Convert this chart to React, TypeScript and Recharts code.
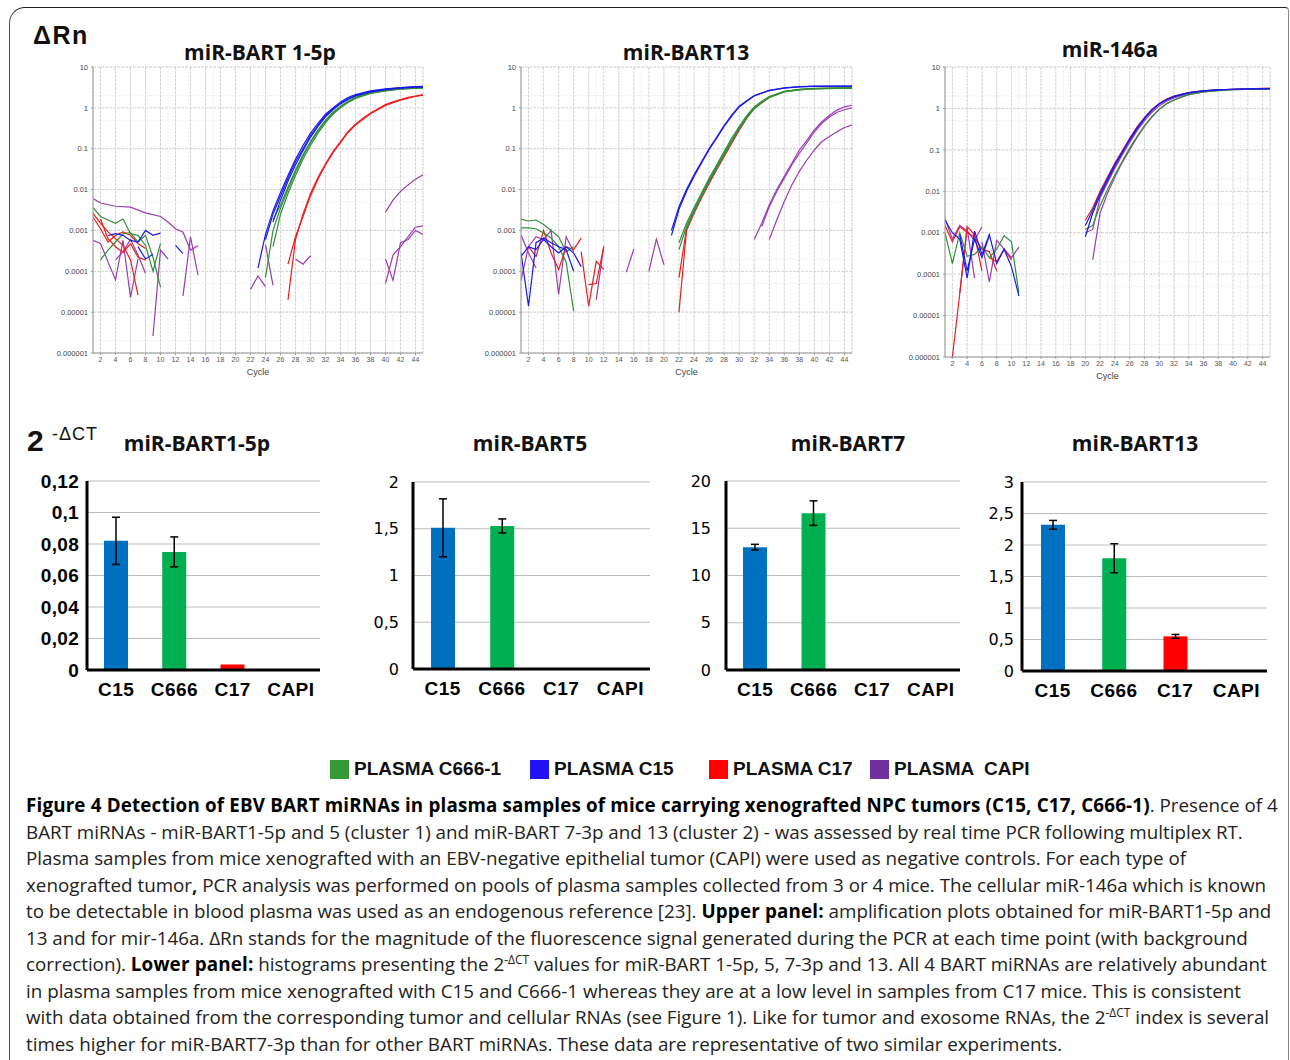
import React from "react";
import { LineChart, Line, XAxis, YAxis, CartesianGrid, BarChart, Bar, Cell, ErrorBar } from "recharts";

type Pt = [number, number];

// ---------------- Amplification plots (cycle, ΔRn) ----------------
const ampXTicks = [2, 4, 6, 8, 10, 12, 14, 16, 18, 20, 22, 24, 26, 28, 30, 32, 34, 36, 38, 40, 42, 44];
const ampYTicks = [0.000001, 0.00001, 0.0001, 0.001, 0.01, 0.1, 1, 10];
const ampYTickLabels = ["0.000001", "0.00001", "0.0001", "0.001", "0.01", "0.1", "1", "10"];

// miR-BART 1-5p
const p1Blue: Pt[][] = [
  [[23, 1.2e-4], [24, 8e-4], [25, 3e-3], [26, 8.5e-3], [27, 2.2e-2], [28, 5.5e-2], [29, 0.12], [30, 0.24], [31, 0.42], [32, 0.7], [33, 1.0], [34, 1.4], [35, 1.8], [36, 2.1], [38, 2.6], [40, 2.9], [42, 3.15], [44, 3.3], [45, 3.35]],
  [[24, 6e-4], [25, 2.5e-3], [26, 7e-3], [27, 1.9e-2], [28, 4.8e-2], [29, 0.1], [30, 0.21], [31, 0.38], [32, 0.64], [33, 0.95], [34, 1.3], [35, 1.7], [36, 2.0], [38, 2.5], [40, 2.85], [42, 3.1], [44, 3.25], [45, 3.3]],
  [[25, 1.6e-3], [26, 5.5e-3], [27, 1.6e-2], [28, 4e-2], [29, 0.09], [30, 0.19], [31, 0.35], [32, 0.6], [33, 0.9], [34, 1.25], [35, 1.6], [36, 1.95], [38, 2.45], [40, 2.8], [42, 3.05], [44, 3.2], [45, 3.25]],
  [[3, 7.5e-4], [4, 8.3e-4], [5, 7.6e-4], [6, 5.7e-4], [7, 5.2e-4], [8, 1e-3], [9, 7.6e-4], [10, 8.6e-4]],
  [[7, 4e-4], [8, 2e-4], [9, 2.6e-4]],
  [[12, 4.3e-4], [13, 2.7e-4]],
];
const p1Green: Pt[][] = [
  [[24, 7e-5], [25, 1e-3], [26, 3.5e-3], [27, 1e-2], [28, 2.7e-2], [29, 6.5e-2], [30, 0.14], [31, 0.27], [32, 0.47], [33, 0.75], [34, 1.05], [35, 1.4], [36, 1.75], [38, 2.3], [40, 2.65], [42, 2.9], [44, 3.05], [45, 3.1]],
  [[25, 4e-4], [26, 2.5e-3], [27, 8e-3], [28, 2.2e-2], [29, 5.5e-2], [30, 0.12], [31, 0.24], [32, 0.43], [33, 0.7], [34, 1.0], [35, 1.35], [36, 1.7], [38, 2.25], [40, 2.6], [42, 2.85], [44, 3.0], [45, 3.05]],
  [[25, 1.8e-3], [26, 4.2e-3], [27, 1.15e-2], [28, 3e-2], [29, 7.2e-2], [30, 0.15], [31, 0.29], [32, 0.5], [33, 0.78], [34, 1.1], [35, 1.45], [36, 1.8], [38, 2.35], [40, 2.7], [42, 2.95], [44, 3.1], [45, 3.15]],
  [[1, 3.6e-3], [2, 2.2e-3], [3, 1.8e-3], [4, 1.5e-3], [5, 1.9e-3], [6, 8.3e-4], [7, 7.6e-4], [8, 4.3e-4], [9, 1e-4], [10, 4.8e-4]],
  [[2, 1.9e-4], [3, 3.3e-4], [4, 5.2e-4], [5, 8.3e-4], [6, 8.8e-4], [7, 5.2e-4], [8, 7.6e-4], [9, 2.2e-4], [10, 4.1e-5]],
];
const p1Red: Pt[][] = [
  [[27, 2e-5], [28, 6e-4], [29, 2.5e-3], [30, 8e-3], [31, 2e-2], [32, 4.3e-2], [33, 8.5e-2], [34, 0.15], [35, 0.26], [36, 0.4], [37, 0.56], [38, 0.75], [39, 0.95], [40, 1.2], [41, 1.4], [42, 1.6], [43, 1.8], [44, 1.95], [45, 2.1]],
  [[27, 1.5e-4], [28, 7e-4], [29, 2.2e-3], [30, 7e-3], [31, 1.8e-2], [32, 4e-2], [33, 8e-2], [34, 0.14], [35, 0.25], [36, 0.38], [38, 0.72], [40, 1.15], [42, 1.55], [44, 1.9], [45, 2.05]],
  [[1, 2.6e-3], [2, 1.5e-3], [3, 9.2e-4], [4, 6.3e-4], [5, 4.3e-4], [6, 1.9e-4], [7, 2.6e-5]],
  [[1, 2.1e-3], [2, 1.1e-3], [3, 5.2e-4], [4, 7.5e-4], [5, 9.2e-4], [6, 7.6e-4], [7, 4.8e-4], [8, 3.6e-4]],
  [[2, 1.9e-3], [3, 6.3e-4], [4, 4e-4], [5, 2.9e-4], [6, 4.7e-4], [7, 2.2e-4], [8, 1.9e-4]],
];
const p1Purple: Pt[][] = [
  [[1, 6e-3], [2, 4.7e-3], [4, 3.9e-3], [6, 3.7e-3], [8, 2.7e-3], [10, 2.2e-3], [11, 1.6e-3], [12, 1.1e-3], [13, 9e-4], [14, 3.3e-4], [15, 4.2e-4]],
  [[1, 5.7e-4], [2, 4.8e-4], [3, 1.7e-4], [4, 6.2e-5], [5, 5.7e-4], [6, 2.3e-5], [7, 2e-4]],
  [[4, 1.9e-4], [5, 3e-4], [6, 6e-4], [7, 2.5e-4], [8, 9e-5]],
  [[9, 2.6e-6], [10, 3.3e-4], [11, 2e-4]],
  [[13, 2.5e-5], [14, 7e-4], [15, 8e-5]],
  [[22, 3.6e-5], [23, 7.7e-5], [24, 4.2e-5]],
  [[24, 4.5e-4], [25, 4.5e-5]],
  [[28, 2e-4], [29, 1.5e-4], [30, 2.4e-4]],
  [[40, 2.8e-3], [41, 5.5e-3], [42, 9e-3], [43, 1.3e-2], [44, 1.8e-2], [45, 2.3e-2]],
  [[40, 5e-5], [41, 2.5e-4], [42, 4e-4], [43, 7e-4], [44, 1.2e-3], [45, 1.3e-3]],
  [[40, 2e-4], [41, 6e-5], [42, 5e-4], [43, 6e-4], [44, 1e-3], [45, 8e-4]],
];

// miR-BART13
const p2Blue: Pt[][] = [
  [[21, 1e-3], [22, 3.8e-3], [23, 1e-2], [24, 2.3e-2], [25, 4.8e-2], [26, 0.1], [27, 0.19], [28, 0.37], [29, 0.66], [30, 1.1], [31, 1.5], [32, 2.0], [34, 2.7], [36, 3.1], [38, 3.3], [40, 3.4], [45, 3.4]],
  [[21, 7.5e-4], [22, 3.3e-3], [23, 9e-3], [24, 2.1e-2], [25, 4.5e-2], [26, 0.095], [27, 0.18], [28, 0.35], [29, 0.63], [30, 1.05], [31, 1.45], [32, 1.95], [34, 2.65], [36, 3.05], [38, 3.25], [40, 3.35], [45, 3.4]],
  [[1, 2.8e-4], [2, 1.4e-5], [3, 5e-4], [4, 6.5e-4], [5, 5e-4], [6, 4e-4], [7, 3.4e-4], [8, 1e-4]],
  [[1, 2.3e-4], [2, 4e-4], [3, 3.4e-4], [4, 6e-4], [5, 4e-4], [6, 2.8e-4], [7, 4e-4], [8, 2.8e-4], [9, 1.3e-4]],
];
const p2Green: Pt[][] = [
  [[22, 3.4e-4], [23, 1.25e-3], [24, 3.2e-3], [25, 7.4e-3], [26, 1.7e-2], [27, 3.6e-2], [28, 7.7e-2], [29, 0.16], [30, 0.32], [31, 0.6], [32, 1.0], [33, 1.4], [34, 1.85], [36, 2.5], [38, 2.8], [40, 2.95], [45, 3.1]],
  [[22, 5e-4], [23, 1.5e-3], [24, 3.6e-3], [25, 8.2e-3], [26, 1.9e-2], [27, 4e-2], [28, 8.5e-2], [29, 0.18], [30, 0.35], [31, 0.65], [32, 1.05], [33, 1.45], [34, 1.9], [36, 2.55], [38, 2.85], [40, 3.0], [45, 3.1]],
  [[23, 1.1e-3], [24, 2.9e-3], [25, 6.8e-3], [26, 1.55e-2], [27, 3.3e-2], [28, 7e-2], [29, 0.15], [30, 0.3], [31, 0.57], [32, 0.95], [33, 1.35], [34, 1.8], [36, 2.45], [38, 2.75], [40, 2.9], [45, 3.05]],
  [[1, 1.9e-3], [2, 1.7e-3], [3, 1.8e-3], [4, 1.4e-3], [5, 1e-3], [6, 7e-4], [7, 3e-4], [8, 4e-4]],
  [[1, 1.15e-3], [2, 1.15e-3], [3, 1.1e-3], [4, 8.6e-4], [5, 6.5e-4], [6, 4e-4], [7, 1.7e-4], [8, 1.05e-5]],
];
const p2Red: Pt[][] = [
  [[22, 1e-5], [23, 1e-3], [24, 2.6e-3], [25, 6.2e-3], [26, 1.4e-2], [27, 3e-2], [28, 6.4e-2], [29, 0.135], [30, 0.28], [31, 0.55], [32, 0.97], [34, 1.8], [36, 2.5], [38, 2.8], [40, 2.95], [45, 3.1]],
  [[22, 7e-5], [23, 1.1e-3]],
  [[2, 4e-4], [3, 2.3e-4], [4, 1e-3], [5, 2.8e-4], [6, 1.1e-4], [7, 4e-4], [8, 3.4e-4], [9, 6.5e-4]],
  [[9, 3e-4], [10, 1.4e-5], [11, 1.75e-4], [12, 1.1e-4]],
  [[10, 4.7e-5], [11, 5e-5], [12, 4e-4]],
];
const p2Purple: Pt[][] = [
  [[32, 6e-4], [33, 1.5e-3], [34, 4.2e-3], [35, 1e-2], [36, 2.1e-2], [37, 4.4e-2], [38, 9.3e-2], [39, 0.16], [40, 0.29], [41, 0.46], [42, 0.66], [43, 0.88], [44, 1.06], [45, 1.16]],
  [[33, 1.25e-3], [34, 3.8e-3], [35, 9e-3], [36, 1.9e-2], [37, 4e-2], [38, 7.7e-2], [39, 0.14], [40, 0.26], [41, 0.42], [42, 0.6], [43, 0.78], [44, 0.9], [45, 1.0]],
  [[34, 6e-4], [35, 1.8e-3], [36, 5.1e-3], [37, 1.3e-2], [38, 2.8e-2], [39, 5.3e-2], [40, 9.3e-2], [41, 0.15], [42, 0.2], [43, 0.26], [44, 0.33], [45, 0.38]],
  [[1, 7.8e-4], [2, 2.8e-4], [3, 1.2e-4]],
  [[1, 6e-5], [2, 4e-4], [3, 7e-4], [4, 6e-4], [5, 1e-3], [6, 2.7e-5], [7, 7e-4], [8, 3e-4]],
  [[11, 2e-5], [12, 4e-4]],
  [[15, 9.5e-5], [16, 3.5e-4]],
  [[18, 1e-4], [19, 6.1e-4], [20, 1.45e-4]],
];

// miR-146a
const p3Blue: Pt[][] = [
  [[20, 1.5e-3], [21, 3.5e-3], [22, 9e-3], [23, 2e-2], [24, 4.5e-2], [25, 9e-2], [26, 0.18], [27, 0.34], [28, 0.58], [29, 0.92], [30, 1.3], [31, 1.65], [32, 1.95], [33, 2.2], [34, 2.4], [36, 2.65], [38, 2.8], [40, 2.9], [42, 2.95], [45, 3.0]],
  [[20, 8e-4], [21, 3e-3], [22, 8e-3], [23, 1.8e-2], [24, 4.1e-2], [25, 8.4e-2], [26, 0.17], [27, 0.32], [28, 0.56], [29, 0.9], [30, 1.28], [31, 1.62], [32, 1.92], [34, 2.38], [36, 2.64], [38, 2.8], [40, 2.9], [45, 3.0]],
  [[1, 2e-3], [2, 1e-3], [3, 7e-4], [4, 8e-5], [5, 1.1e-3], [6, 3e-4], [7, 9e-4], [8, 1.8e-4], [9, 4e-4], [10, 1.5e-4], [11, 3e-5]],
  [[3, 9e-4], [4, 1.2e-4], [5, 7e-4], [6, 2.5e-4], [7, 8.5e-4]],
];
const p3Green: Pt[][] = [
  [[20, 1.2e-3], [21, 1.5e-3], [22, 4.5e-3], [23, 1.1e-2], [24, 2.5e-2], [25, 5.3e-2], [26, 0.11], [27, 0.21], [28, 0.38], [29, 0.63], [30, 0.95], [31, 1.3], [32, 1.6], [33, 1.9], [34, 2.15], [36, 2.5], [38, 2.7], [40, 2.85], [45, 2.95]],
  [[1, 1e-3], [2, 1.8e-4], [3, 1e-3], [4, 2.7e-4], [5, 3e-4], [6, 4.6e-4], [7, 2.5e-4], [8, 4e-4], [9, 8.5e-4], [10, 6e-4], [11, 3.5e-5]],
];
const p3Red: Pt[][] = [
  [[20, 2e-3], [21, 4e-3], [22, 1e-2], [23, 2.2e-2], [24, 4.8e-2], [25, 9.5e-2], [26, 0.19], [27, 0.36], [28, 0.6], [29, 0.95], [30, 1.32], [31, 1.68], [32, 1.98], [34, 2.4], [36, 2.7], [38, 2.82], [40, 2.9], [45, 3.1]],
  [[2, 1e-6], [3, 3.4e-5], [4, 1.4e-3], [5, 9e-4], [6, 1.2e-4]],
  [[1, 1.5e-3], [2, 6e-4], [3, 1.4e-3], [4, 1e-3], [5, 8e-4], [6, 4e-4], [7, 3.5e-4], [8, 1.2e-4]],
  [[7, 2.5e-4], [8, 2e-4], [9, 4e-4], [10, 2.2e-4]],
];
const p3Purple: Pt[][] = [
  [[21, 2.2e-4], [22, 3e-3], [23, 9e-3], [24, 2.2e-2], [25, 5e-2], [26, 0.1], [27, 0.2], [28, 0.37], [29, 0.62], [30, 0.95], [31, 1.3], [32, 1.6], [34, 2.15], [36, 2.5], [38, 2.72], [40, 2.85], [45, 2.95]],
  [[20, 1e-3], [21, 1.2e-3], [22, 7e-3], [23, 1.6e-2], [24, 3.6e-2], [25, 7.5e-2], [26, 0.15], [27, 0.29], [28, 0.5], [29, 0.8], [30, 1.15], [31, 1.5], [32, 1.8], [34, 2.3], [36, 2.6], [38, 2.78], [40, 2.88], [45, 3.0]],
  [[1, 2.2e-3], [2, 7e-4], [3, 1.5e-3], [4, 1.1e-3], [5, 6.5e-4], [6, 1.4e-3]],
  [[3, 3.5e-5], [4, 1.3e-3], [5, 8e-5]],
  [[6, 6e-4], [7, 6.5e-5], [8, 6.5e-4], [9, 4e-4], [10, 2.5e-4], [11, 4.5e-4]],
];

// ---------------- 2^-ΔCT bar charts ----------------
const categories = ["C15", "C666", "C17", "CAPI"];
const categoryColors = ["#0070C0", "#00B050", "#FF0000", "#7030A0"];

const bart1_5pValues = [0.082, 0.075, 0.0035, 0];
const bart1_5pErrors: (number | null)[] = [0.015, 0.0095, null, null];
const bart1_5pTicks = [0, 0.02, 0.04, 0.06, 0.08, 0.1, 0.12];
const bart1_5pTickLabels = ["0", "0,02", "0,04", "0,06", "0,08", "0,1", "0,12"];

const bart5Values = [1.51, 1.53, 0, 0];
const bart5Errors: (number | null)[] = [0.31, 0.075, null, null];
const bart5Ticks = [0, 0.5, 1, 1.5, 2];
const bart5TickLabels = ["0", "0,5", "1", "1,5", "2"];

const bart7Values = [13.0, 16.6, 0, 0];
const bart7Errors: (number | null)[] = [0.3, 1.3, null, null];
const bart7Ticks = [0, 5, 10, 15, 20];
const bart7TickLabels = ["0", "5", "10", "15", "20"];

const bart13Values = [2.32, 1.79, 0.55, 0];
const bart13Errors: (number | null)[] = [0.07, 0.23, 0.03, null];
const bart13Ticks = [0, 0.5, 1, 1.5, 2, 2.5, 3];
const bart13TickLabels = ["0", "0,5", "1", "1,5", "2", "2,5", "3"];

const legendLabels = ["PLASMA C666-1", "PLASMA C15", "PLASMA C17", "PLASMA  CAPI"];
const legendColors = ["#339933", "#2014F5", "#FF0000", "#7030A0"];

const BLUE = "#1a1ae6";
const GREEN = "#2f8f3a";
const RED = "#ee1c1c";
const PURPLE = "#9b3cb0";

const ampXMinor = Array.from({ length: 45 }, (_, i) => i + 1);
const ampYMinor: number[] = [];
[1e-6, 1e-5, 1e-4, 1e-3, 1e-2, 1e-1, 1].forEach((d) => {
  for (let m = 1; m <= 9; m++) ampYMinor.push(d * m);
});
ampYMinor.push(10);

const toPts = (a: Pt[]) => a.map(([x, y]) => ({ x, y }));

type Seg = { c: string; d: Pt[] };
const buildSeries = (b: Pt[][], g: Pt[][], r: Pt[][], p: Pt[][]): Seg[] => [
  ...p.map((d) => ({ c: PURPLE, d })),
  ...r.map((d) => ({ c: RED, d })),
  ...g.map((d) => ({ c: GREEN, d })),
  ...b.map((d) => ({ c: BLUE, d })),
];

function AmpPlot(props: { x: number; y: number; w: number; h: number; title: string; tx: number; ty: number; series: Seg[] }) {
  const { x, y, w, h, title, tx, ty, series } = props;
  const yW = 50;
  const xH = 22;
  const mt = 4;
  const mr = 4;
  return (
    <>
      <div style={{ position: "absolute", left: tx, top: ty, transform: "translate(-50%,-50%)", font: "bold 21px 'Open Sans'", whiteSpace: "nowrap", color: "#111" }}>{title}</div>
      <div style={{ position: "absolute", left: x - yW, top: y - mt }}>
        <LineChart width={w + yW + mr} height={h + mt + xH} margin={{ top: mt, right: mr, left: 0, bottom: 0 }}>
          <XAxis xAxisId="minor" type="number" dataKey="x" domain={[1, 45]} ticks={ampXMinor} hide allowDataOverflow />
          <YAxis yAxisId="minor" type="number" scale="log" domain={[1e-6, 10]} ticks={ampYMinor} hide allowDataOverflow />
          <CartesianGrid xAxisId="minor" yAxisId="minor" stroke="#ececec" strokeDasharray="1 1" />
          <CartesianGrid stroke="#d4d4d4" strokeDasharray="3 1" />
          <XAxis
            type="number"
            dataKey="x"
            domain={[1, 45]}
            ticks={ampXTicks}
            interval={0}
            allowDataOverflow
            height={xH}
            tick={{ fontSize: 7, fill: "#555", fontFamily: "Liberation Sans, Arial" }}
            tickSize={2}
            tickMargin={2}
            axisLine={{ stroke: "#9a9a9a" }}
            tickLine={{ stroke: "#9a9a9a" }}
          />
          <YAxis
            type="number"
            scale="log"
            domain={[1e-6, 10]}
            ticks={ampYTicks}
            interval={0}
            allowDataOverflow
            width={yW}
            tickFormatter={(v: number) => ampYTickLabels[ampYTicks.indexOf(v)] ?? String(v)}
            tick={{ fontSize: 7.5, fill: "#444", fontFamily: "Liberation Sans, Arial" }}
            tickSize={2}
            tickMargin={3}
            axisLine={{ stroke: "#9a9a9a" }}
            tickLine={{ stroke: "#9a9a9a" }}
          />
          {series.map((s, i) => (
            <Line key={i} data={toPts(s.d)} dataKey="y" type="linear" stroke={s.c} strokeWidth={1.2} dot={false} activeDot={false} isAnimationActive={false} />
          ))}
        </LineChart>
      </div>
      <div style={{ position: "absolute", left: x + w / 2, top: y + h + 19, transform: "translate(-50%,-50%)", font: "9px 'Liberation Sans', Arial", color: "#444" }}>Cycle</div>
    </>
  );
}

function DctChart(props: {
  left: number; top: number; right: number; bottom: number; title: string; tx: number;
  values: number[]; errors: (number | null)[]; ticks: number[]; tickLabels: string[];
  tickFont: { fontSize: number; fontFamily: string; fontWeight?: string; letterSpacing?: number };
  tickGap: number;
}) {
  const { left, top, right, bottom, title, tx, values, errors, ticks, tickLabels, tickFont, tickGap } = props;
  const yW = 70;
  const mt = 10;
  const xH = 40;
  const data = categories.map((name, i) => ({ name, v: values[i], e: errors[i] }));
  return (
    <>
      <div style={{ position: "absolute", left: tx, top: 443, transform: "translate(-50%,-50%)", font: "bold 21px 'Open Sans'", whiteSpace: "nowrap", color: "#111" }}>{title}</div>
      <div style={{ position: "absolute", left: left - yW, top: top - mt }}>
        <BarChart width={right - left + yW + 2} height={bottom - top + mt + xH} data={data} margin={{ top: mt, right: 2, left: 0, bottom: 0 }}>
          <CartesianGrid vertical={false} stroke="#bdbdbd" strokeWidth={1.2} />
          <XAxis
            dataKey="name"
            interval={0}
            height={xH}
            tickLine={false}
            tickSize={0}
            tickMargin={13}
            axisLine={{ stroke: "#000", strokeWidth: 3 }}
            tick={{ fontSize: 19, fontWeight: "bold", fill: "#000", fontFamily: "Liberation Sans, Arial", letterSpacing: 0.5 }}
          />
          <YAxis
            type="number"
            domain={[0, ticks[ticks.length - 1]]}
            ticks={ticks}
            interval={0}
            width={yW}
            tickLine={false}
            tickSize={0}
            tickMargin={tickGap}
            axisLine={{ stroke: "#000", strokeWidth: 3 }}
            tickFormatter={(v: number) => tickLabels[ticks.indexOf(v)] ?? String(v)}
            tick={{ fill: "#000", ...tickFont }}
          />
          <Bar dataKey="v" barSize={24} isAnimationActive={false}>
            {data.map((_, i) => (
              <Cell key={i} fill={categoryColors[i]} />
            ))}
            <ErrorBar dataKey="e" width={4} stroke="#000" strokeWidth={1.5} />
          </Bar>
        </BarChart>
      </div>
    </>
  );
}

const capStyle: React.CSSProperties = { position: "absolute", left: 26, whiteSpace: "pre", font: "18.8px 'Open Sans'", color: "#222", lineHeight: "26.5px" };
const boldCap: React.CSSProperties = { color: "#000", letterSpacing: 0.17 };
const sup: React.CSSProperties = { fontSize: 12, verticalAlign: "super", lineHeight: 0 };

export default function App() {
  const captionLines: React.ReactNode[] = [
    <><b style={boldCap}>Figure 4 Detection of EBV BART miRNAs in plasma samples of mice carrying xenografted NPC tumors (C15, C17, C666-1)</b>. Presence of 4</>,
    <>BART miRNAs - miR-BART1-5p and 5 (cluster 1) and miR-BART 7-3p and 13 (cluster 2) - was assessed by real time PCR following multiplex RT.</>,
    <>Plasma samples from mice xenografted with an EBV-negative epithelial tumor (CAPI) were used as negative controls. For each type of</>,
    <>xenografted tumor<b>,</b> PCR analysis was performed on pools of plasma samples collected from 3 or 4 mice. The cellular miR-146a which is known</>,
    <>to be detectable in blood plasma was used as an endogenous reference [23]. <b style={boldCap}>Upper panel:</b> amplification plots obtained for miR-BART1-5p and</>,
    <>13 and for mir-146a. ΔRn stands for the magnitude of the fluorescence signal generated during the PCR at each time point (with background</>,
    <>correction). <b style={boldCap}>Lower panel:</b> histograms presenting the 2<span style={sup}>-ΔCT</span> values for miR-BART 1-5p, 5, 7-3p and 13. All 4 BART miRNAs are relatively abundant</>,
    <>in plasma samples from mice xenografted with C15 and C666-1 whereas they are at a low level in samples from C17 mice. This is consistent</>,
    <>with data obtained from the corresponding tumor and cellular RNAs (see Figure 1). Like for tumor and exosome RNAs, the 2<span style={sup}>-ΔCT</span> index is several</>,
    <>times higher for miR-BART7-3p than for other BART miRNAs. These data are representative of two similar experiments.</>,
  ];
  const legendLefts = [330, 530, 709, 870];
  return (
    <div style={{ position: "absolute", left: 0, top: 0, width: 1290, height: 1060, overflow: "hidden", background: "#fff", fontFamily: "'Open Sans', sans-serif" }}>
      <div style={{ position: "absolute", left: 9, top: 7, width: 1278, height: 1100, borderTop: "1.5px solid #222", borderLeft: "1px solid #555", borderRight: "1px solid #888", borderTopLeftRadius: 16, borderTopRightRadius: 4 }} />

      <div style={{ position: "absolute", left: 33, top: 35, transform: "translateY(-50%)", font: "bold 25px 'Liberation Sans', Arial", letterSpacing: 1.5, color: "#111" }}>ΔRn</div>

      <AmpPlot x={93} y={67} w={330} h={286} title="miR-BART 1-5p" tx={260} ty={52} series={buildSeries(p1Blue, p1Green, p1Red, p1Purple)} />
      <AmpPlot x={521} y={67} w={331} h={286} title="miR-BART13" tx={686} ty={52} series={buildSeries(p2Blue, p2Green, p2Red, p2Purple)} />
      <AmpPlot x={945} y={67} w={325} h={290} title="miR-146a" tx={1110} ty={49} series={buildSeries(p3Blue, p3Green, p3Red, p3Purple)} />

      <div style={{ position: "absolute", left: 27, top: 441, transform: "translateY(-50%)", font: "bold 30px 'Liberation Sans', Arial", color: "#111" }}>2</div>
      <div style={{ position: "absolute", left: 52, top: 434, transform: "translateY(-50%)", font: "18px 'Liberation Sans', Arial", letterSpacing: 1, color: "#111" }}>-ΔCT</div>

      <DctChart left={87} top={481} right={320} bottom={670} title="miR-BART1-5p" tx={197}
        values={bart1_5pValues} errors={bart1_5pErrors} ticks={bart1_5pTicks} tickLabels={bart1_5pTickLabels}
        tickFont={{ fontSize: 19, fontFamily: "Liberation Sans, Arial", fontWeight: "bold", letterSpacing: 0.3 }} tickGap={8} />
      <DctChart left={413} top={482} right={650} bottom={669} title="miR-BART5" tx={530}
        values={bart5Values} errors={bart5Errors} ticks={bart5Ticks} tickLabels={bart5TickLabels}
        tickFont={{ fontSize: 16, fontFamily: "DejaVu Sans" }} tickGap={14} />
      <DctChart left={726} top={481} right={960} bottom={670} title="miR-BART7" tx={848}
        values={bart7Values} errors={bart7Errors} ticks={bart7Ticks} tickLabels={bart7TickLabels}
        tickFont={{ fontSize: 16, fontFamily: "DejaVu Sans" }} tickGap={15} />
      <DctChart left={1022} top={482} right={1267} bottom={671} title="miR-BART13" tx={1135}
        values={bart13Values} errors={bart13Errors} ticks={bart13Ticks} tickLabels={bart13TickLabels}
        tickFont={{ fontSize: 16, fontFamily: "DejaVu Sans" }} tickGap={8} />

      {legendLabels.map((label, i) => (
        <div key={label} style={{ position: "absolute", left: legendLefts[i], top: 769, transform: "translateY(-50%)", display: "flex", alignItems: "center", whiteSpace: "pre" }}>
          <span style={{ display: "inline-block", width: 19, height: 19, background: legendColors[i], marginRight: 5 }} />
          <span style={{ font: "bold 19px 'Liberation Sans', Arial", color: "#111" }}>{label}</span>
        </div>
      ))}

      {captionLines.map((ln, i) => (
        <div key={i} style={{ ...capStyle, top: 792 + i * 26.5 }}>{ln}</div>
      ))}
    </div>
  );
}
